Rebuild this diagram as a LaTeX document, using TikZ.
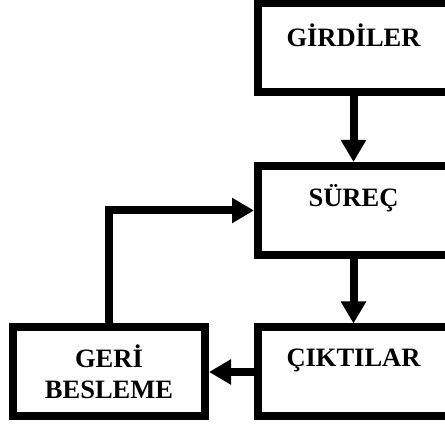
\documentclass[tikz,border=0pt]{standalone}
\usepackage{fontspec}
\setmainfont{Liberation Serif}
\usetikzlibrary{arrows.meta}
\begin{document}
\begin{tikzpicture}[x=1pt,y=1pt,
  box/.style={draw=black, line width=8pt, minimum width=191pt, minimum height=89pt,
    inner sep=0pt, line join=miter, fill=white},
  lbl/.style={font=\fontsize{26.5}{31}\selectfont\bfseries, align=center, inner sep=0pt},
  flow/.style={line width=8pt, line join=miter, -{Triangle[length=22pt,width=24pt]}}]
\useasboundingbox (0,0) rectangle (445,425);
\clip (0,0) rectangle (445,425);
% main column of boxes
\node[box] (girdi) at (353.5,377.25) {};
\node[box] (surec) at (353.5,214.5) {};
\node[box] (cikti) at (353.5,53) {};
\node[box, minimum width=192pt] (geri) at (109,53) {};
% box captions
\node[lbl] (girdiT) at ([yshift=12pt]girdi.center) {GİRDİLER};
\node[lbl] (surecT) at ([yshift=12pt]surec.center) {SÜREÇ};
\node[lbl] (ciktiT) at ([yshift=12pt]cikti.center) {ÇIKTILAR};
\node[lbl] (geriT) at (geri.center) {GERİ\\BESLEME};
% connectors
\draw[flow] (girdi.south) -- (surec.north);
\draw[flow] (surec.south) -- (cikti.north);
\draw[flow] (cikti.west) -- (geri.east);
\draw[flow] (geri.north) |- (surec.west);
\end{tikzpicture}
\end{document}
